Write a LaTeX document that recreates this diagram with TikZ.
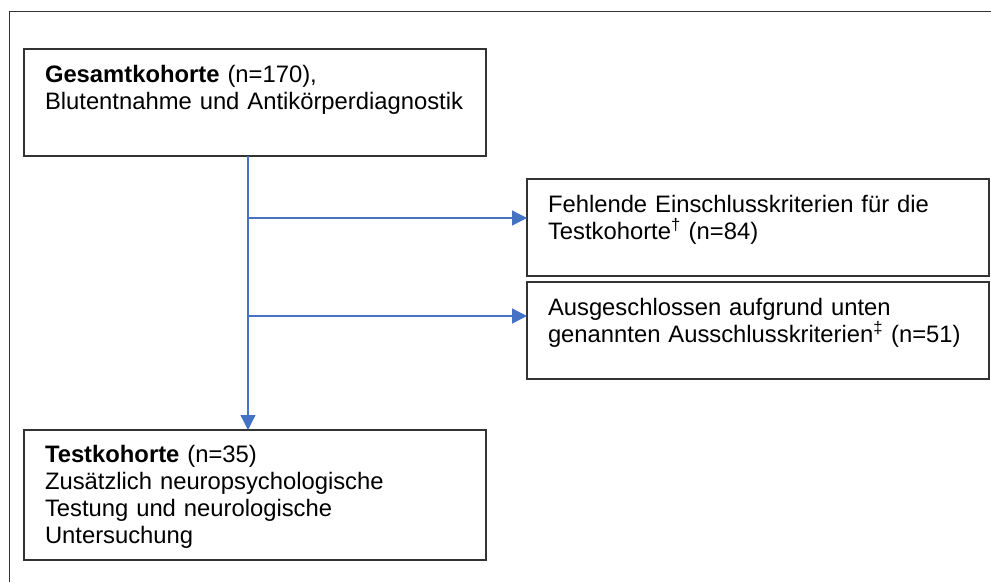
\documentclass[tikz,border=0pt]{standalone}
\usepackage{fontspec}
\setmainfont{Liberation Sans}
\usetikzlibrary{arrows.meta,calc}
\definecolor{arrowblue}{HTML}{4472C4}
\definecolor{boxgray}{HTML}{333333}
\begin{document}
\begin{tikzpicture}[x=1pt,y=-1pt,
  box/.style={draw=boxgray,line width=1.1pt,anchor=north west,inner sep=0pt,outer sep=0pt},
  txt/.style={anchor=base west,inner sep=0pt,outer sep=0pt,text width=440pt,align=left,font=\fontsize{23.8}{27.2}\selectfont},
  conn/.style={draw=arrowblue,line width=1.3pt,-{Triangle[width=15pt,length=15pt]}}]
\useasboundingbox (0,0) rectangle (991,582);
\draw[line width=1pt,draw=boxgray] (991,11) -- (9,11) -- (9,582);

\node[box,minimum width=462pt,minimum height=107pt] (top) at (24,49) {};
\node[box,minimum width=462pt,minimum height=97pt] (r1) at (527,179) {};
\node[box,minimum width=462pt,minimum height=97pt] (r2) at (527,282) {};
\node[box,minimum width=462pt,minimum height=130pt] (bot) at (24,430) {};

\node[txt] (ttop) at (45,82) {\textbf{Gesamtkohorte} (n=170),\\Blutentnahme und Antikörperdiagnostik};
\node[txt] (tr1) at (548,212) {Fehlende Einschlusskriterien für die\\Testkohorte\textsuperscript{†} (n=84)};
\node[txt] (tr2) at (548,315) {Ausgeschlossen aufgrund unten\\genannten Ausschlusskriterien\textsuperscript{‡} (n=51)};
\node[txt] (tbot) at (45,462) {\textbf{Testkohorte} (n=35)\\Zusätzlich neuropsychologische\\Testung und neurologische\\Untersuchung};

\coordinate (s) at (248,156);
\coordinate (j1) at (248,218);
\coordinate (j2) at (248,316);
\draw[conn] (s) -- (s |- bot.north);
\draw[conn] (j1) -- (j1 -| r1.west);
\draw[conn] (j2) -- (j2 -| r2.west);
\end{tikzpicture}
\end{document}
